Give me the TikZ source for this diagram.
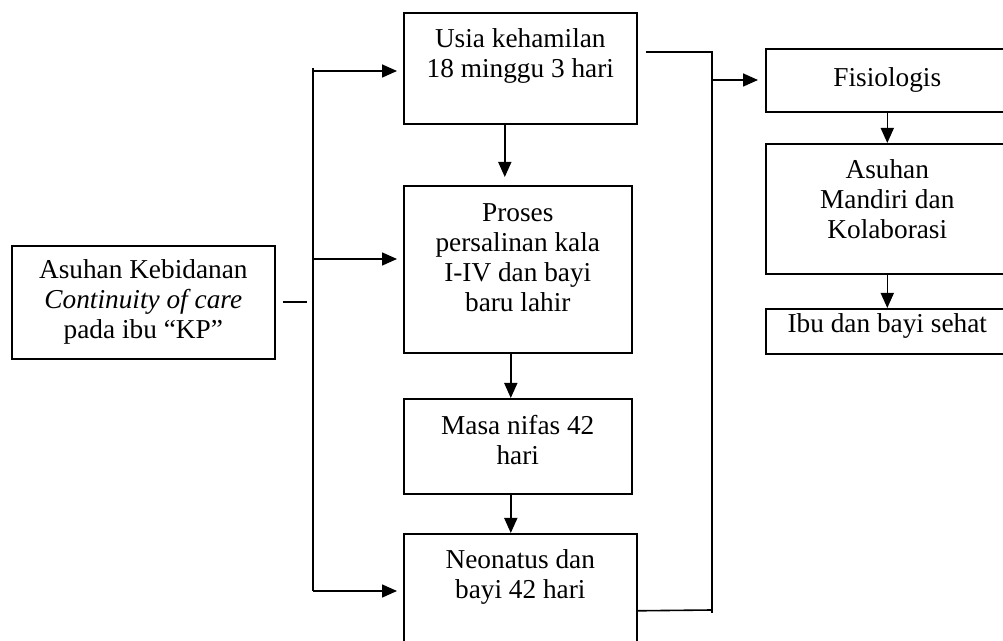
\documentclass[tikz,border=0pt]{standalone}
\usepackage{fontspec}
\setmainfont{Liberation Serif}
\usetikzlibrary{arrows.meta}
\newcommand{\isifont}{\fontsize{13.65pt}{15pt}\selectfont}
\tikzset{
	kotak/.style={draw, line width=0.8pt, anchor=north west, inner sep=0pt, align=center, font=\isifont},
	isi/.style={anchor=north, align=center, inner sep=0pt, font=\isifont, yshift=-#1},
	isi/.default=8.2pt,
	garis/.style={line width=0.8pt},
	panah/.style={line width=0.8pt, -{Triangle[length=7.5pt,width=6.5pt]}}
}

\begin{document}
\begin{tikzpicture}[x=0.5pt, y=-0.5pt]
	\useasboundingbox (0,0) rectangle (1003,641);
	\clip (0,0) rectangle (1003,641);
	\node[kotak, minimum width=131.5pt, minimum height=56.5pt] (ibuKP) at (11,245) {Asuhan Kebidanan\\\textit{Continuity of care}\\pada ibu “KP”};
	\node[kotak, minimum width=116.5pt, minimum height=55.5pt, label={[isi]north:{Usia kehamilan\\18 minggu 3 hari}}] (usia) at (403,12) {};
	\node[kotak, minimum width=114pt, minimum height=83.5pt, label={[isi=9.2pt]north:{Proses\\persalinan kala\\I-IV dan bayi\\baru lahir}}] (proses) at (403,185) {};
	\node[kotak, minimum width=114pt, minimum height=47.5pt, label={[isi]north:{Masa nifas 42\\hari}}] (masa) at (403,398) {};
	\node[kotak, minimum width=116.5pt, minimum height=65pt, label={[isi]north:{Neonatus dan\\bayi 42 hari}}] (neo) at (403,533) {};
	\node[kotak, minimum width=121.5pt, minimum height=31.5pt] (fis) at (765,48) {Fisiologis};
	\node[kotak, minimum width=121.5pt, minimum height=65pt, label={[isi]north:{Asuhan\\Mandiri dan\\Kolaborasi}}] (asuhan) at (765,143) {};
	\node[kotak, minimum width=121.5pt, minimum height=22.5pt, label={[isi=2.7pt]north:{Ibu dan bayi sehat}}] (ibu) at (765,308) {};

	\coordinate (cabangAtas) at (313,68);
	\coordinate (keUsia) at (313,71);
	\coordinate (keProses) at (313,259);
	\coordinate (cabangBawah) at (313,591);
	\coordinate (kananBawah) at (712,613);
	\coordinate (neoKanan) at (712,610);
	\coordinate (keFis) at (712,80);

	\draw[garis] ([xshift=3.5pt]ibuKP.east) -- ++(24,0);
	\draw[garis] (cabangAtas) -- (cabangBawah);
	\draw[panah, shorten >=3pt] (keUsia) -- (keUsia -| usia.west);
	\draw[panah, shorten >=3pt] (keProses) -- (keProses -| proses.west);
	\draw[panah, shorten >=3pt] (cabangBawah) -- (cabangBawah -| neo.west);
	\draw[panah, shorten >=4pt] ([xshift=-7.75pt]usia.south) -- ([xshift=-6.5pt]proses.north);
	\draw[panah] ([xshift=-3.5pt]proses.south) -- ([xshift=-3.5pt]masa.north);
	\draw[panah] ([xshift=-3.5pt]masa.south) -- ([xshift=-4.75pt]neo.north);
	\draw[garis] ([shift={(4pt,8.25pt)}]usia.east) -| (kananBawah);
	\draw[garis] ([yshift=-6pt]neo.east) -- (neoKanan);
	\draw[panah, shorten >=3.5pt] (keFis) -- (keFis -| fis.west);
	\draw[panah] (fis.south) -- (asuhan.north);
	\draw[panah] (asuhan.south) -- (ibu.north);
\end{tikzpicture}
\end{document}
